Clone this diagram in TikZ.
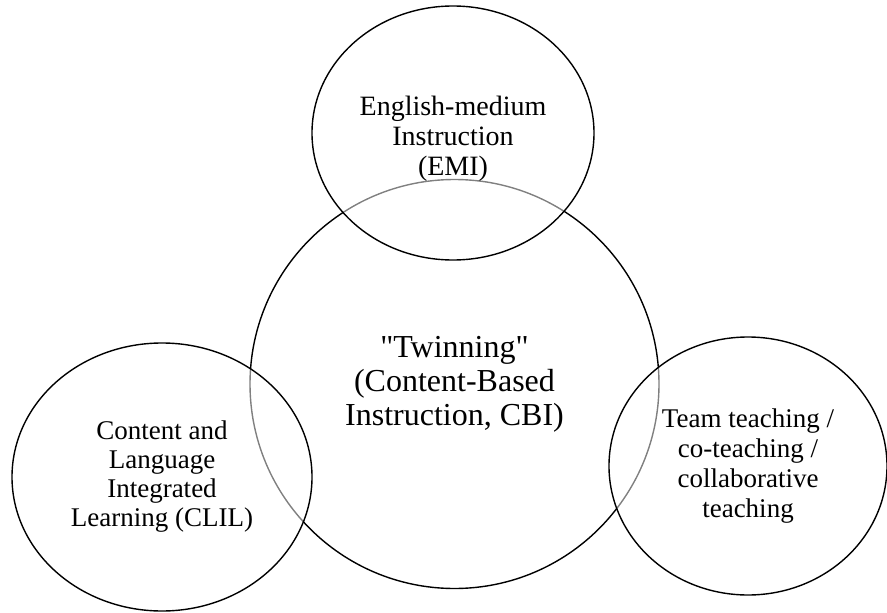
\documentclass[tikz,border=0pt]{standalone}
\usepackage{fontspec}
\setmainfont{Liberation Serif}[Ligatures=TeXOff]
\usetikzlibrary{shapes.geometric}
\tikzset{
  ring/.style={ellipse, draw, line width=1.4pt, inner sep=0pt, align=center,
    fill=white, fill opacity=0.5, text opacity=1},
}
\begin{document}
\begin{tikzpicture}[x=1pt, y=-1pt, line join=round]
\useasboundingbox (0,0) rectangle (887,613);
% big circle first, the others lie over it
\node[circle, draw, line width=1.4pt, minimum size=409pt, align=center,
  font=\fontsize{32}{34}\selectfont] (cbi) at (454.5,384)
  {"Twinning"\\(Content-Based\\Instruction, CBI)};
\node[ring, minimum width=282pt, minimum height=254pt] (emi) at (453,133) {};
\node[align=center, font=\fontsize{28}{30}\selectfont] (emitext)
  at ([yshift=-6pt]emi.center) {English-medium\\Instruction\\(EMI)};
\node[ring, minimum width=300pt, minimum height=268pt,
  font=\fontsize{27}{29}\selectfont] (clil) at (162,477)
  {Content and\\Language\\Integrated\\Learning (CLIL)};
\node[ring, minimum width=278pt, minimum height=258pt,
  font=\fontsize{27}{30}\selectfont] (team) at (748,466)
  {Team teaching /\\co-teaching /\\collaborative\\teaching};
\end{tikzpicture}
\end{document}
